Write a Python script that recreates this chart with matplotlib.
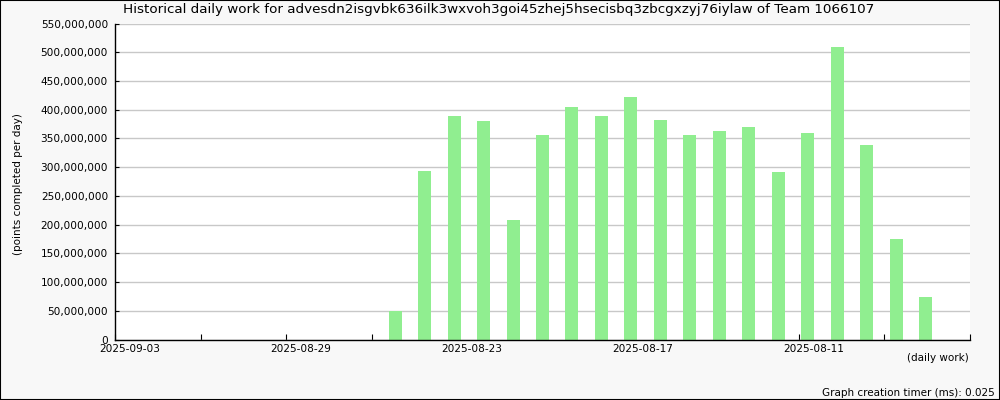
import matplotlib
matplotlib.use("Agg")
import matplotlib.pyplot as plt
from matplotlib.ticker import FuncFormatter, FixedLocator, FixedFormatter, NullFormatter
import numpy as np

# Data (newest on the left, 29 daily slots starting 2025-09-03)
dates = ["2025-09-03", "2025-09-02", "2025-09-01", "2025-08-31", "2025-08-30",
         "2025-08-29", "2025-08-28", "2025-08-27", "2025-08-26", "2025-08-25",
         "2025-08-24", "2025-08-23", "2025-08-22", "2025-08-21", "2025-08-20",
         "2025-08-19", "2025-08-18", "2025-08-17", "2025-08-16", "2025-08-15",
         "2025-08-14", "2025-08-13", "2025-08-12", "2025-08-11", "2025-08-10",
         "2025-08-09", "2025-08-08", "2025-08-07", "2025-08-06"]
points = [0, 0, 0, 0, 0, 0, 0, 0, 0,
          50_000_000, 293_000_000, 389_000_000, 381_000_000, 208_000_000,
          356_000_000, 405_000_000, 389_000_000, 422_000_000, 382_000_000,
          356_000_000, 363_000_000, 370_000_000, 292_000_000, 360_000_000,
          509_000_000, 339_000_000, 175_000_000, 74_000_000, 0]
tick_labels = ["2025-09-03", "2025-08-29", "2025-08-23", "2025-08-17", "2025-08-11"]

title = ("Historical daily work for advesdn2isgvbk636ilk3wxvoh3goi45zhej5hsecisbq3zbcgxzyj76iylaw"
         " of Team 1066107")

fig = plt.figure(figsize=(10, 4), dpi=100, facecolor="#f8f8f8")
ax = fig.add_axes([0.115, 60.3 / 400, 0.855, 316.2 / 400])
ax.set_facecolor("white")

n = len(dates)
x = np.arange(n) + 0.5
ax.bar(x, points, width=0.44, color="#90ee90", zorder=2)

ax.set_xlim(0, n)
ax.set_ylim(0, 550_000_000)

ax.yaxis.set_major_locator(FixedLocator(np.arange(0, 550_000_001, 50_000_000)))
ax.yaxis.set_major_formatter(FuncFormatter(lambda v, p: f"{int(v):,}"))
ax.grid(axis="y", which="major", color="#c8c8c8", linewidth=1, zorder=0)

step = n / 10
major = [i * step for i in range(11)]
ax.xaxis.set_major_locator(FixedLocator(major))
ax.xaxis.set_major_formatter(NullFormatter())
label_pos = [i * 2 * step + 0.5 for i in range(len(tick_labels))]
ax.xaxis.set_minor_locator(FixedLocator(label_pos))
ax.xaxis.set_minor_formatter(FixedFormatter(tick_labels))

ax.tick_params(axis="both", which="both", direction="in", labelsize=7.6, colors="black")
ax.tick_params(axis="x", which="major", length=4.5)
ax.tick_params(axis="x", which="minor", length=0, pad=3)
ax.tick_params(axis="y", length=3, pad=5)

for s in ["top", "right"]:
    ax.spines[s].set_visible(False)
for s in ["left", "bottom"]:
    ax.spines[s].set_linewidth(1)
    ax.spines[s].set_color("black")

fig.text(0.123, 0.975, title, ha="left", va="center", fontsize=9.7)
fig.text(0.018, 1 - 184 / 400, "(points completed per day)", rotation=90,
         ha="center", va="center", fontsize=7.5)
fig.text(0.969, 1 - 358 / 400, "(daily work)", ha="right", va="center", fontsize=7.5)
fig.text(0.995, 1 - 393 / 400, "Graph creation timer (ms): 0.025", ha="right",
         va="center", fontsize=7.5)

border = plt.Rectangle((0, 0), 1, 1, transform=fig.transFigure, fill=False,
                       edgecolor="black", linewidth=1.5)
fig.patches.append(border)

fig.savefig("out.png", dpi=100, facecolor=fig.get_facecolor())
